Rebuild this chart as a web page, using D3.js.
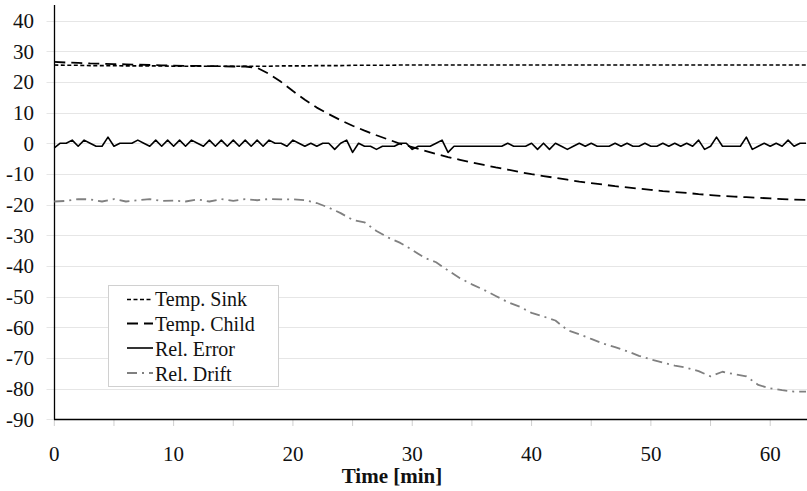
<!DOCTYPE html>
<html>
<head>
<meta charset="utf-8">
<script src="https://cdn.jsdelivr.net/npm/d3@7"></script>
<style>
  html, body { margin: 0; padding: 0; background: #fff; }
  svg { display: block; }
</style>
</head>
<body>
<svg id="chart" width="807" height="491"></svg>
<script>
// ---- data ----
const minutes = d3.range(0, 64, 1);            // 0..63 (1-min samples)
const halfMinutes = d3.range(0, 63.5, 0.5);    // 0..63 (0.5-min samples)

const tempSink = [25.5, 25.4, 25.4, 25.3, 25.3, 25.3, 25.2, 25.2, 25.2, 25.2,
  25.1, 25.1, 25.1, 25.1, 25.1, 25.1, 25.1, 25.1, 25.1, 25.2,
  25.2, 25.2, 25.3, 25.3, 25.3, 25.4, 25.4, 25.4, 25.4, 25.5,
  25.5, 25.5, 25.5, 25.5, 25.5, 25.5, 25.5, 25.5, 25.5, 25.5,
  25.5, 25.5, 25.5, 25.5, 25.5, 25.5, 25.5, 25.5, 25.5, 25.5,
  25.5, 25.5, 25.5, 25.5, 25.5, 25.5, 25.5, 25.5, 25.5, 25.5,
  25.5, 25.5, 25.5, 25.5];

const tempChild = [26.5, 26.3, 26.2, 26.0, 25.9, 25.8, 25.7, 25.6, 25.5, 25.4,
  25.3, 25.2, 25.2, 25.1, 25.1, 25.0, 25.0, 24.6, 22.6, 20.0,
  17.0, 14.2, 11.6, 9.5, 7.5, 5.7, 4.1, 2.6, 1.2, -0.2,
  -1.3, -2.4, -3.5, -4.5, -5.4, -6.3, -7.1, -7.9, -8.6, -9.4,
  -10.1, -10.7, -11.3, -11.9, -12.5, -13.0, -13.5, -14.0, -14.4, -14.8,
  -15.2, -15.6, -15.9, -16.2, -16.6, -16.9, -17.2, -17.4, -17.6, -17.8,
  -18.0, -18.2, -18.4, -18.5];

const relError = [-1.5, 0, 0, 1, -1, 1, 0, -1, -1, 2,
  -1, 0, 0, 0, 1, 0, -1, 1, -1, 1,
  -1, 1, -1, 1, 0, -1, 1, -1, 1, -1,
  1, -1, 1, -1, 1, -1, 1, 0, 0, -1,
  1, 0, -1, 0, -1, 0, 0, -2, 0, 1,
  -3, 0, -1, -1, -2, -1, -1, -1, 0, 0,
  -2, -1, -1, -1, 0, 1, -3, -1, -1, -1,
  -1, -1, -1, -1, -1, -1, 0, -1, -1, -1,
  0, -2, 0, -2, 0, -1, -2, -1, 0, -1,
  0, -1, -1, -1, 0, -1, 0, -1, -1, 0,
  -1, -1, 0, -1, 0, -1, 0, -1, 1, -2,
  -1, 2, -1, -1, -1, -1, 2, -2, -1, 0,
  -1, 0, -1, 1, -1, 0, 0];

const relDrift = [-19, -18.8, -18.2, -18.3, -19, -18.2, -19, -18.6, -18.2, -18.8,
  -18.7, -19, -18.3, -19, -18.2, -18.8, -18.2, -18.6, -18.2, -18.3,
  -18.3, -18.6, -19.5, -21, -22.8, -25, -25.8, -28.6, -30.8, -32.5,
  -34.8, -37.3, -38.8, -41.5, -44, -46, -47.8, -49.8, -51.8, -53.3,
  -55.3, -56.5, -57.8, -60.9, -62.3, -63.8, -65.3, -66.5, -67.8, -69.3,
  -70.5, -71.5, -72.5, -73.2, -74.3, -76, -74.5, -75.3, -76, -78.8,
  -79.9, -80.5, -81, -81];

const yTicks = [40, 30, 20, 10, 0, -10, -20, -30, -40, -50, -60, -70, -80, -90];
const xTickLabels = [0, 10, 20, 30, 40, 50, 60];
const xMinorTicks = d3.range(0, 64, 5);
const seriesNames = ["Temp. Sink", "Temp. Child", "Rel. Error", "Rel. Drift"];

// ---- chart ----
const FONT = "'Liberation Serif'";
const svg = d3.select("#chart");
const x = d3.scaleLinear().domain([0, 63]).range([54.3, 806]);
const y = d3.scaleLinear().domain([-90, 40]).range([419.3, 20.5]);
const plotTop = 5;

// gridlines + y ticks
svg.append("g").selectAll("line").data(yTicks).join("line")
  .attr("x1", 46.5).attr("x2", 807)
  .attr("y1", d => Math.round(y(d)) + 0.5).attr("y2", d => Math.round(y(d)) + 0.5)
  .attr("stroke", "#e6e6e6").attr("stroke-width", 1);

// x minor ticks
svg.append("g").selectAll("line").data(xMinorTicks).join("line")
  .attr("x1", d => x(d)).attr("x2", d => x(d))
  .attr("y1", 420).attr("y2", 426)
  .attr("stroke", "#cfcfcf").attr("stroke-width", 1);

// axes lines
svg.append("line").attr("x1", 54.5).attr("x2", 54.5).attr("y1", plotTop).attr("y2", 419.5)
  .attr("stroke", "#000").attr("stroke-width", 1.3);
svg.append("line").attr("x1", 54).attr("x2", 807).attr("y1", 419.5).attr("y2", 419.5)
  .attr("stroke", "#000").attr("stroke-width", 1.3);

// y labels
svg.append("g").selectAll("text").data(yTicks).join("text")
  .attr("x", 34).attr("y", d => y(d) + 7.5)
  .attr("text-anchor", "end").attr("font-size", 21).attr("fill", "#111")
  .style("font-family", FONT)
  .text(d => d < 0 ? "-" + Math.abs(d) : d);

// x labels
svg.append("g").selectAll("text").data(xTickLabels).join("text")
  .attr("x", d => x(d)).attr("y", 461)
  .attr("text-anchor", "middle").attr("font-size", 21).attr("fill", "#111")
  .style("font-family", FONT)
  .text(d => d);

svg.append("text").attr("x", 392).attr("y", 483)
  .attr("text-anchor", "middle").attr("font-size", 21).attr("font-weight", "bold")
  .style("font-family", FONT)
  .attr("fill", "#111").text("Time [min]");

// lines
const styles = [
  { name: seriesNames[0], color: "#000", dash: "4,2.5", width: 1.6 },
  { name: seriesNames[1], color: "#000", dash: "11,6", width: 1.8 },
  { name: seriesNames[2], color: "#000", dash: null, width: 1.6 },
  { name: seriesNames[3], color: "#808080", dash: "10,5,2,5", width: 1.8 }
];
const seriesData = [
  minutes.map((t, i) => [t, tempSink[i]]),
  minutes.map((t, i) => [t, tempChild[i]]),
  halfMinutes.map((t, i) => [t, relError[i]]),
  minutes.map((t, i) => [t, relDrift[i]])
];
const line = d3.line().x(d => x(d[0])).y(d => y(d[1]));

const drawOrder = [3, 0, 1, 2];
drawOrder.forEach(k => {
  svg.append("path").datum(seriesData[k])
    .attr("d", line)
    .attr("fill", "none")
    .attr("stroke", styles[k].color)
    .attr("stroke-width", styles[k].width)
    .attr("stroke-dasharray", styles[k].dash)
    .attr("stroke-linejoin", "round");
});

// legend
const lg = svg.append("g");
lg.append("rect").attr("x", 108.5).attr("y", 285.5).attr("width", 170).attr("height", 101)
  .attr("fill", "#fff").attr("stroke", "#d0d0d0").attr("stroke-width", 1);
const rowLineY = [299.5, 323.5, 348, 373];
const rowTextY = [306, 331, 356, 381];
styles.forEach((s, i) => {
  lg.append("line").attr("x1", 127).attr("x2", 153)
    .attr("y1", rowLineY[i]).attr("y2", rowLineY[i])
    .attr("stroke", s.color).attr("stroke-width", s.width)
    .attr("stroke-dasharray", s.dash);
  lg.append("text").attr("x", 155).attr("y", rowTextY[i])
    .attr("font-size", 20).attr("fill", "#111")
    .style("font-family", FONT).text(s.name);
});
</script>
</body>
</html>
